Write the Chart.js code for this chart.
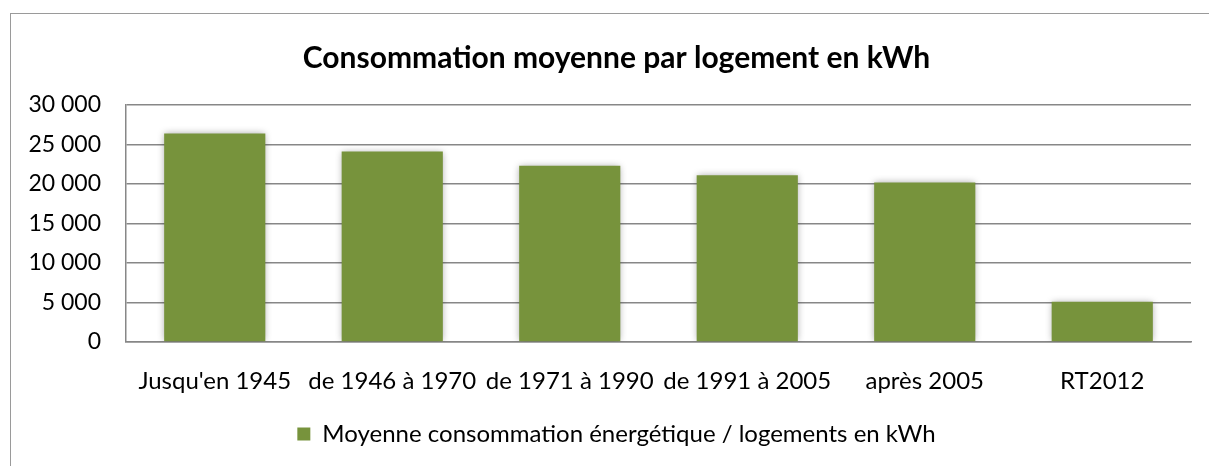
<html>

<head>
    <style>
        body {
            margin: 0;
            background-color: white;
            overflow: hidden;
        }

        #frame {
            position: absolute;
            left: 10px;
            top: 13px;
            width: 1400px;
            height: 700px;
            border: 1px solid #9a9a9a;
        }

        #myChart {
            position: absolute;
            left: 0;
            top: 0;
        }
    </style>
    <script src="https://cdn.jsdelivr.net/npm/chart.js@4.4.0/dist/chart.umd.min.js"></script>
</head>

<body>
    <div id="frame"></div>
    <canvas id="myChart" width="1209" height="466"></canvas>
</body>

<script>
    // the data
    var periodLabels = ['Jusqu\'en 1945', 'de 1946 à 1970', 'de 1971 à 1990', 'de 1991 à 2005', 'après 2005', 'RT2012'];
    var averageConsumption = [26400, 24100, 22300, 21100, 20200, 5100];
    var seriesName = 'Moyenne consommation énergétique / logements en kWh';
    var chartTitle = 'Consommation moyenne par logement en kWh';

    var barGreen = 'rgb(119, 147, 60)';
    var gridGrey = '#878787';
    var fontName = 'Lato, "Open Sans", sans-serif';

    // 30000 -> "30 000"
    function withSpaces(value) {
        return String(value).replace(/\B(?=(\d{3})+(?!\d))/g, ' ');
    }

    // soft grey glow round the bars, like the office chart
    // (no borderWidth on the bars, otherwise chart.js clips the shadow away)
    var barShadow = {
        id: 'barShadow',
        beforeDatasetsDraw: function (chart) {
            var ctx = chart.ctx;
            ctx.save();
            ctx.shadowColor = 'rgba(0, 0, 0, 0.35)';
            ctx.shadowBlur = 7;
            ctx.shadowOffsetX = 0;
            ctx.shadowOffsetY = 0;
        },
        afterDatasetsDraw: function (chart) {
            chart.ctx.restore();
        }
    };

    // the office chart centres title and legend a bit right of the canvas middle
    var nudgeTitleAndLegend = {
        id: 'nudgeTitleAndLegend',
        afterLayout: function (chart) {
            if (chart.titleBlock) chart.titleBlock.left += 42;
            if (chart.legend) chart.legend.left += 42;
        }
    };

    var paintingCanvas = document.getElementById('myChart').getContext('2d');
    var chart = new Chart(paintingCanvas, {
        type: 'bar',
        data: {
            labels: periodLabels,
            datasets: [
                {
                    label: seriesName,
                    backgroundColor: barGreen,
                    borderWidth: 0,
                    barPercentage: 0.57,
                    categoryPercentage: 1,
                    data: averageConsumption
                }
            ]
        },
        plugins: [barShadow, nudgeTitleAndLegend],
        options: {
            responsive: false,
            animation: false,
            devicePixelRatio: 1,
            layout: {
                padding: { left: 0, right: 18, top: 30, bottom: 10 }
            },
            plugins: {
                title: {
                    display: true,
                    text: chartTitle,
                    color: '#000',
                    font: { family: fontName, size: 30, weight: 'bold' },
                    padding: { top: 10, bottom: 29 }
                },
                legend: {
                    position: 'bottom',
                    labels: {
                        color: '#000',
                        font: { family: fontName, size: 24 },
                        boxWidth: 13,
                        boxHeight: 13,
                        padding: 7
                    }
                },
                tooltip: { enabled: false }
            },
            scales: {
                x: {
                    grid: { display: false, drawTicks: false },
                    border: { display: true, color: gridGrey, width: 1.5 },
                    ticks: {
                        color: '#000',
                        font: { family: fontName, size: 24 },
                        padding: 25,
                        maxRotation: 0,
                        autoSkip: false
                    },
                    afterFit: function (scale) { scale.height = 73; }
                },
                y: {
                    min: 0,
                    max: 30000,
                    grid: { color: gridGrey, lineWidth: 1.5, drawTicks: false },
                    border: { display: true, color: gridGrey, width: 1.5 },
                    ticks: {
                        stepSize: 5000,
                        color: '#000',
                        font: { family: fontName, size: 23 },
                        padding: 25,
                        callback: function (value) { return withSpaces(value); }
                    },
                    afterFit: function (scale) { scale.width = 126; }
                }
            }
        }
    });
</script>

</html>
